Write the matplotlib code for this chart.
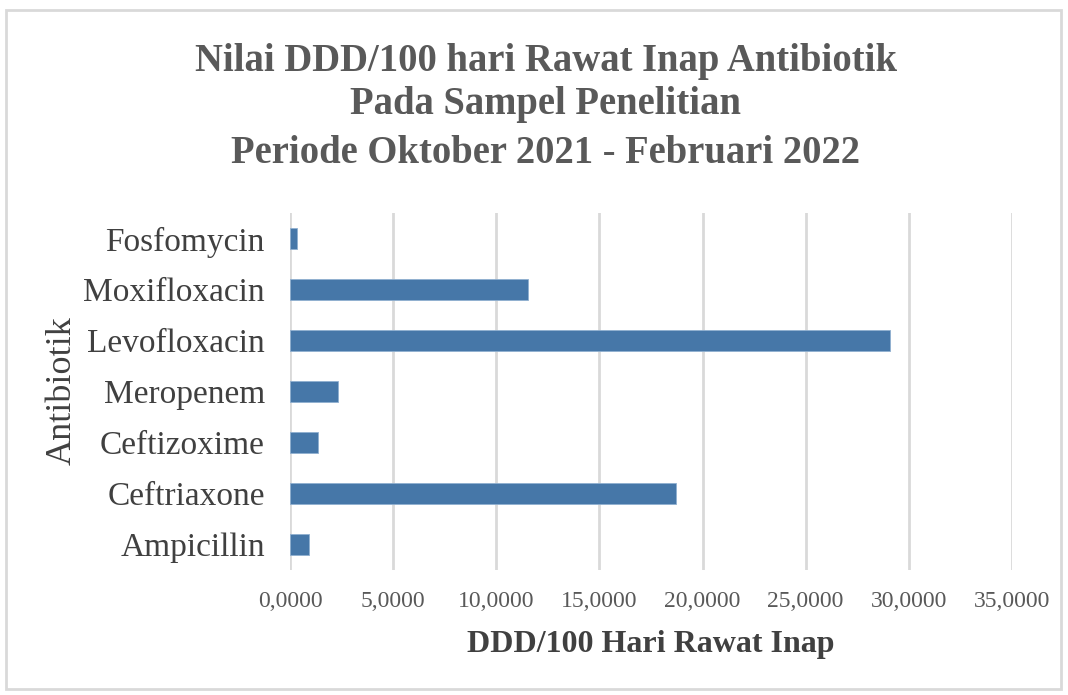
import matplotlib.pyplot as plt
from matplotlib.patches import Rectangle
from matplotlib.ticker import FuncFormatter

antibiotik = ["Ampicillin", "Ceftriaxone", "Ceftizoxime", "Meropenem",
              "Levofloxacin", "Moxifloxacin", "Fosfomycin"]
ddd_per_100 = [0.91, 18.71, 1.37, 2.32, 29.07, 11.54, 0.36]
x_ticks = [0, 5, 10, 15, 20, 25, 30, 35]

BAR_COLOR = "#4677a8"
TEXT_GRAY = "#595959"
SERIF = ["Liberation Serif", "DejaVu Serif"]

fig = plt.figure(figsize=(10.68, 6.95), dpi=100)
ax = fig.add_axes([0.2715, 0.180, 0.676, 0.5135])

ax.barh(range(len(antibiotik)), ddd_per_100, height=0.4, color=BAR_COLOR,
        edgecolor="#8fb0d0", linewidth=0.6, zorder=3)

ax.set_xlim(0, 35)
ax.set_ylim(-0.5, len(antibiotik) - 0.5)
ax.set_xticks(x_ticks)
ax.xaxis.set_major_formatter(
    FuncFormatter(lambda v, _: f"{v:.4f}".replace(".", ",")))
ax.set_yticks(range(len(antibiotik)))
ax.set_yticklabels(antibiotik)

for lab in ax.get_yticklabels():
    lab.set_fontfamily(SERIF)
    lab.set_fontsize(24)
    lab.set_color("#404040")
for lab in ax.get_xticklabels():
    lab.set_fontfamily(SERIF)
    lab.set_fontsize(17)
    lab.set_color(TEXT_GRAY)

ax.tick_params(axis="both", length=0)
ax.tick_params(axis="x", pad=15)
ax.tick_params(axis="y", pad=18)
ax.grid(axis="x", color="#d9d9d9", linewidth=2, zorder=0)
for s in ax.spines.values():
    s.set_visible(False)

title_lines = ["Nilai DDD/100 hari Rawat Inap Antibiotik",
               "Pada Sampel Penelitian",
               "Periode Oktober 2021 - Februari 2022"]
for y, line in zip([0.911, 0.849, 0.779], title_lines):
    fig.text(0.511, y, line, ha="center", va="center", fontsize=27.8,
             fontweight="bold", family=SERIF, color=TEXT_GRAY)

fig.text(0.609, 0.072, "DDD/100 Hari Rawat Inap", ha="center", va="center",
         fontsize=23, fontweight="bold", family=SERIF, color="#404040")
fig.text(0.058, 0.438, "Antibiotik", ha="center", va="center", rotation=90,
         fontsize=26, family=SERIF, color="#404040")

fig.patches.append(Rectangle((0.006, 0.008), 0.987, 0.978,
                             transform=fig.transFigure, fill=False,
                             edgecolor="#d9d9d9", linewidth=2))

fig.savefig("out.png", dpi=100)
